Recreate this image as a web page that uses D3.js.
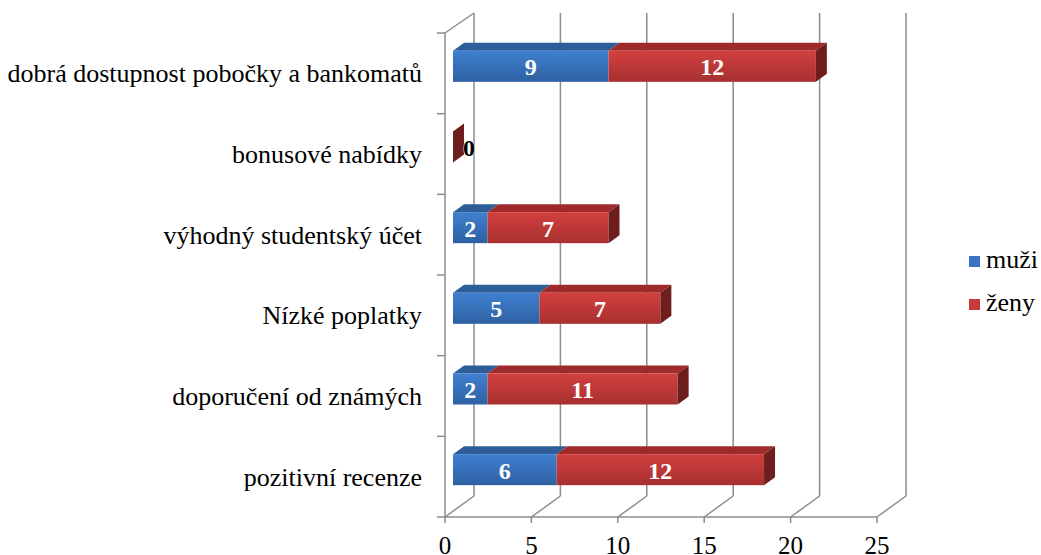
<!DOCTYPE html>
<html>
<head>
<meta charset="utf-8">
<script src="https://cdn.jsdelivr.net/npm/d3@7"></script>
<style>
  body { margin: 0; background: #fff; }
  svg text { font-family: "Liberation Serif", "Times New Roman", serif; }
</style>
</head>
<body>
<div id="chart"></div>
<script>
// chart data, top to bottom
var categories = ["dobrá dostupnost pobočky a bankomatů", "bonusové nabídky", "výhodný studentský účet",
                  "Nízké poplatky", "doporučení od známých", "pozitivní recenze"];
var muzi = [9, 0, 2, 5, 2, 6];
var zeny = [12, 0, 7, 7, 11, 12];
var seriesNames = ["muži", "ženy"];
var xTicks = [0, 5, 10, 15, 20, 25];

var w = 1041, h = 555;
var svg = d3.select("#chart").append("svg").attr("width", w).attr("height", h);

var defs = svg.append("defs");
function grad(id, c1, c2) {
  var g = defs.append("linearGradient").attr("id", id).attr("x1", 0).attr("y1", 0).attr("x2", 0).attr("y2", 1);
  g.append("stop").attr("offset", "0%").attr("stop-color", c1);
  g.append("stop").attr("offset", "100%").attr("stop-color", c2);
}
grad("gBlue", "#3f80d0", "#2e60a2");
grad("gRed", "#d2403f", "#a83030");

// scales: front plane of the 3D box
var x = d3.scaleLinear().domain([0, 25]).range([445, 877]);
var y = d3.scaleBand().domain(categories).range([33, 517]);
var DX = 29, DY = -21;        // full depth of the box
var fx = 8, fy = -6;          // bar front offset
var bx = 11, by = -8;         // bar depth
var barH = 31;

var grid = "#8c8c8c";
var g = svg.append("g");

// back wall grid lines and floor diagonals
xTicks.forEach(function(t) {
  g.append("line").attr("x1", x(t) + DX).attr("x2", x(t) + DX).attr("y1", 13).attr("y2", 517 + DY)
    .attr("stroke", grid).attr("stroke-width", 1.5);
  g.append("line").attr("x1", x(t)).attr("y1", 517).attr("x2", x(t) + DX).attr("y2", 517 + DY)
    .attr("stroke", grid).attr("stroke-width", 1.5);
  g.append("line").attr("x1", x(t)).attr("y1", 517).attr("x2", x(t)).attr("y2", 523)
    .attr("stroke", grid).attr("stroke-width", 1.5);
});
// floor front edge
g.append("line").attr("x1", x(0)).attr("x2", x(25)).attr("y1", 517).attr("y2", 517)
  .attr("stroke", grid).attr("stroke-width", 1.5);
// left wall
g.append("line").attr("x1", x(0)).attr("x2", x(0)).attr("y1", 33).attr("y2", 517)
  .attr("stroke", grid).attr("stroke-width", 1.5);
g.append("line").attr("x1", x(0)).attr("y1", 33).attr("x2", x(0) + DX).attr("y2", 13)
  .attr("stroke", grid).attr("stroke-width", 1.5);
// category ticks
var bounds = categories.map(function(c) { return y(c); }).concat([517]);
bounds.forEach(function(b) {
  g.append("line").attr("x1", x(0) - 8).attr("x2", x(0)).attr("y1", b).attr("y2", b)
    .attr("stroke", grid).attr("stroke-width", 1.5);
});

// x tick labels
svg.selectAll(".xt").data(xTicks).enter().append("text")
  .attr("x", function(d) { return x(d); }).attr("y", 554)
  .attr("text-anchor", "middle").attr("font-size", 25).attr("fill", "#000")
  .text(function(d) { return d; });

// category labels
svg.selectAll(".cat").data(categories).enter().append("text")
  .attr("x", 422).attr("y", function(d) { return y(d) + y.bandwidth() / 2 + 9; })
  .attr("text-anchor", "end").attr("font-size", 26).attr("fill", "#000")
  .text(function(d) { return d; });

function poly(pts) { return "M" + pts.map(function(p) { return p.join(","); }).join("L") + "Z"; }

// bars
categories.forEach(function(c, i) {
  var top = y(c) + y.bandwidth() / 2 - 7 - barH / 2;
  var segs = [
    { v0: 0, v1: muzi[i], front: "url(#gBlue)", topc: "#2e5e98", side: "#24497a", val: muzi[i] },
    { v0: muzi[i], v1: muzi[i] + zeny[i], front: "url(#gRed)", topc: "#9e2b2a", side: "#6f1e1e", val: zeny[i] }
  ];
  segs.forEach(function(s) {
    var x0 = x(s.v0) + fx, x1 = x(s.v1) + fx;
    if (x1 > x0) {
      g.append("path").attr("d", poly([[x0, top], [x1, top], [x1 + bx, top + by], [x0 + bx, top + by]]))
        .attr("fill", s.topc);
      g.append("rect").attr("x", x0).attr("y", top).attr("width", x1 - x0).attr("height", barH)
        .attr("fill", s.front);
    }
  });
  // right end of the stack
  var last = segs[1];
  var xe = x(last.v1) + fx;
  g.append("path").attr("d", poly([[xe, top], [xe + bx, top + by], [xe + bx, top + by + barH], [xe, top + barH]]))
    .attr("fill", last.side);

  // value labels
  segs.forEach(function(s, k) {
    if (s.v1 > s.v0) {
      svg.append("text").attr("x", (x(s.v0) + x(s.v1)) / 2 + fx).attr("y", top + barH / 2 + 9)
        .attr("text-anchor", "middle").attr("font-size", 24).attr("font-weight", "bold")
        .attr("fill", "#fff").text(s.val);
    } else if (k === 1) {
      svg.append("text").attr("x", xe + 16).attr("y", top + barH / 2 + 9)
        .attr("text-anchor", "middle").attr("font-size", 24).attr("font-weight", "bold")
        .attr("fill", "#000").attr("stroke", "#fff").attr("stroke-width", 0.8)
        .attr("paint-order", "stroke").text(s.val);
    }
  });
});

// legend
var legColors = ["#3a75c4", "#c83a39"];
seriesNames.forEach(function(n, i) {
  var ly = 256 + i * 43;
  svg.append("rect").attr("x", 969).attr("y", ly).attr("width", 11).attr("height", 11).attr("fill", legColors[i]);
  svg.append("text").attr("x", 986).attr("y", ly + 12).attr("font-size", 26).attr("fill", "#000").text(n);
});
</script>
</body>
</html>
